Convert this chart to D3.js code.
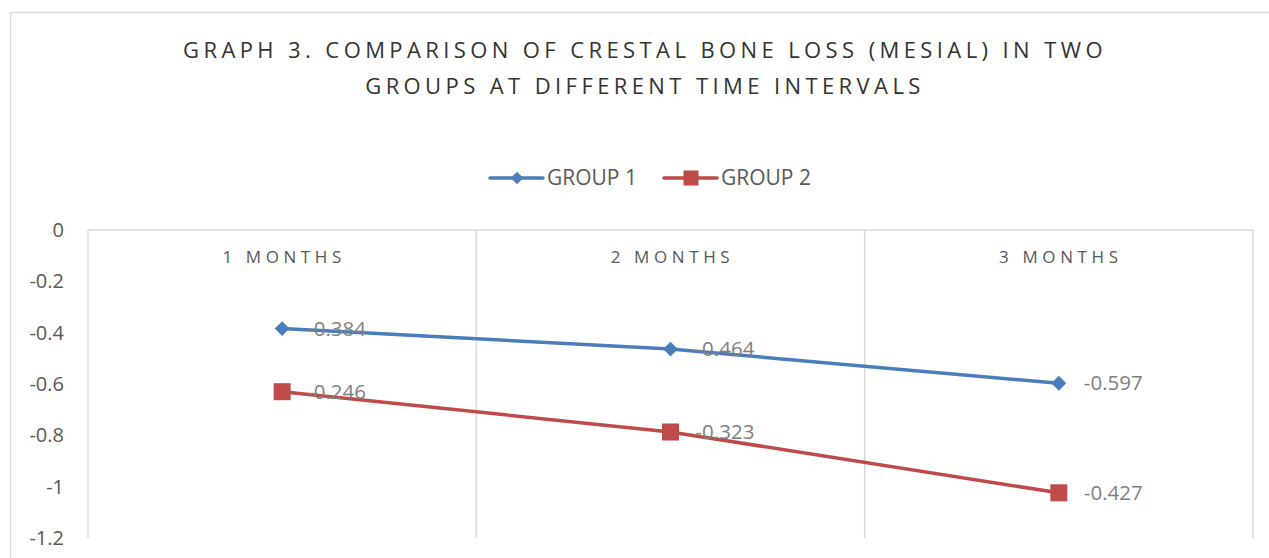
<!DOCTYPE html>
<html>
<head>
<meta charset="utf-8">
<script src="https://cdn.jsdelivr.net/npm/d3@7"></script>
<style>
  body { margin: 0; background: #fff; }
  svg { font-family: "Open Sans", sans-serif; }
</style>
</head>
<body>
<div class="visualization"></div>
<script>
const categories = ["1 MONTHS", "2 MONTHS", "3 MONTHS"];
const group1 = [-0.384, -0.464, -0.597];
const group2 = [-0.246, -0.323, -0.427];
const yticks = [0, -0.2, -0.4, -0.6, -0.8, -1, -1.2];
const seriesNames = ["GROUP 1", "GROUP 2"];
const titleLines = ["GRAPH 3. COMPARISON OF CRESTAL BONE LOSS (MESIAL) IN TWO",
                    "GROUPS AT DIFFERENT TIME INTERVALS"];

const width = 1269, height = 558;
const plotLeft = 88, plotRight = 1253, plotTop = 230, plotBottom = 538;
const blue = "#4a7ebb", red = "#be4b48";

const svg = d3.select(".visualization").append("svg")
  .attr("width", width).attr("height", height);

// chart border
svg.append("rect")
  .attr("x", 10.5).attr("y", 12.5)
  .attr("width", 1300).attr("height", 600)
  .attr("fill", "none").attr("stroke", "#d9d9d9").attr("stroke-width", 1.5);

// title
svg.append("g").selectAll("text")
  .data(titleLines).enter().append("text")
  .attr("x", 645)
  .attr("y", (d, i) => 58 + i * 36)
  .attr("text-anchor", "middle")
  .attr("font-size", 22)
  .attr("letter-spacing", 4.4)
  .attr("fill", "#333333")
  .text(d => d);

var x = d3.scaleBand().domain(categories).range([plotLeft, plotRight]);
var y = d3.scaleLinear().domain([-1.2, 0]).range([plotBottom, plotTop]);

// stacked values
var stacked2 = group2.map((v, i) => group1[i] + v);

// vertical gridlines at category boundaries
var bounds = categories.map(c => x(c)).concat([plotRight]);
svg.append("g").selectAll("line")
  .data(bounds).enter().append("line")
  .attr("x1", d => d).attr("x2", d => d)
  .attr("y1", plotTop).attr("y2", plotBottom)
  .attr("stroke", "#d9d9d9").attr("stroke-width", 1.5);

// horizontal axis at 0
svg.append("line")
  .attr("x1", plotLeft).attr("x2", plotRight)
  .attr("y1", y(0)).attr("y2", y(0))
  .attr("stroke", "#d9d9d9").attr("stroke-width", 1.5);

// y axis labels
var yaxis = d3.axisLeft(y).tickValues(yticks).tickSize(0)
  .tickFormat(d => d === 0 ? "0" : String(+d.toFixed(1)));
var yg = svg.append("g")
  .attr("transform", "translate(" + (plotLeft - 24) + ",0)")
  .call(yaxis);
yg.select(".domain").remove();
yg.selectAll("text")
  .attr("font-family", "Open Sans")
  .attr("font-size", 20)
  .attr("fill", "#595959")
  .attr("x", 0);

// category labels
svg.append("g").selectAll("text")
  .data(categories).enter().append("text")
  .attr("x", d => x(d) + x.bandwidth() / 2 + 2)
  .attr("y", 263)
  .attr("text-anchor", "middle")
  .attr("font-size", 17)
  .attr("letter-spacing", 4.6)
  .attr("fill", "#595959")
  .text(d => d);

var cx = (d, i) => x(categories[i]) + x.bandwidth() / 2;
var line = d3.line().x(cx).y(d => y(d));

svg.append("path").datum(group1)
  .attr("d", line).attr("fill", "none")
  .attr("stroke", blue).attr("stroke-width", 3.5).attr("stroke-linecap", "round");
svg.append("path").datum(stacked2)
  .attr("d", line).attr("fill", "none")
  .attr("stroke", red).attr("stroke-width", 3.5).attr("stroke-linecap", "round");

var diamond = d3.symbol().type(d3.symbolSquare).size(110);
svg.append("g").selectAll("path")
  .data(group1).enter().append("path")
  .attr("d", diamond())
  .attr("transform", (d, i) => "translate(" + cx(d, i) + "," + y(d) + ") rotate(45)")
  .attr("fill", blue);

svg.append("g").selectAll("rect")
  .data(stacked2).enter().append("rect")
  .attr("x", (d, i) => cx(d, i) - 8.5).attr("y", d => y(d) - 8.5)
  .attr("width", 17).attr("height", 17)
  .attr("fill", red);

// data labels (show the series' own value)
function labels(vals, pos) {
  svg.append("g").selectAll("text")
    .data(vals).enter().append("text")
    .attr("x", (d, i) => cx(d, i) + 25)
    .attr("y", (d, i) => y(pos[i]))
    .attr("dy", "0.35em")
    .attr("font-size", 20.5)
    .attr("fill", "#7f7f7f")
    .text(d => d);
}
labels(group1, group1);
labels(group2, stacked2);

// legend
var legend = svg.append("g").attr("transform", "translate(0,178)");
var lx = [490, 664];
seriesNames.forEach((name, i) => {
  var col = i === 0 ? blue : red;
  legend.append("line")
    .attr("x1", lx[i]).attr("x2", lx[i] + 53)
    .attr("y1", 0).attr("y2", 0)
    .attr("stroke", col).attr("stroke-width", 3.5).attr("stroke-linecap", "round");
  if (i === 0) {
    legend.append("path")
      .attr("d", d3.symbol().type(d3.symbolSquare).size(80)())
      .attr("transform", "translate(" + (lx[i] + 27) + ",0) rotate(45)")
      .attr("fill", col);
  } else {
    legend.append("rect")
      .attr("x", lx[i] + 27 - 7.5).attr("y", -7.5)
      .attr("width", 15).attr("height", 15).attr("fill", col);
  }
  legend.append("text")
    .attr("x", lx[i] + 57).attr("y", 0).attr("dy", "0.35em")
    .attr("font-size", 21).attr("fill", "#595959")
    .text(name);
});
</script>
</body>
</html>
